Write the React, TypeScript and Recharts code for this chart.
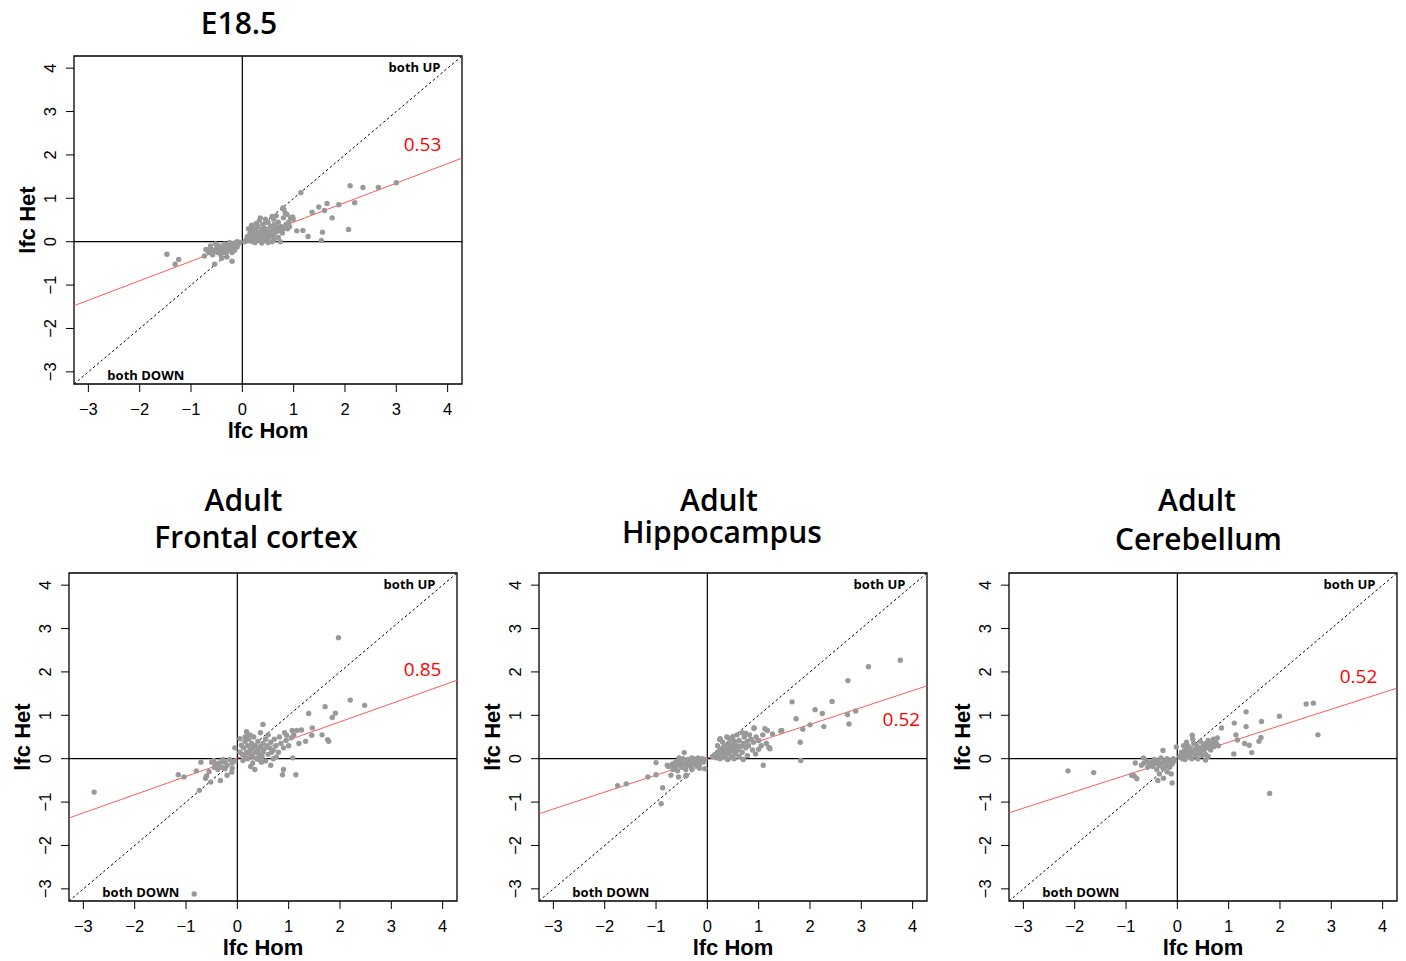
import React from "react"
import { ScatterChart, Scatter, XAxis, YAxis, ReferenceLine, ReferenceArea, ReferenceDot } from "recharts"

// axis range used by all four panels (R style 4% padding around -3..4)
const AXIS_MIN = -3.28
const AXIS_MAX = 4.28
const axisTicks = [-3, -2, -1, 0, 1, 2, 3, 4]

const e185Points: [number, number][] = [
  [3.0, 1.36], [2.65, 1.25], [2.35, 1.25], [2.1, 1.29], [2.19, 0.9], [2.07, 0.28], [1.88, 0.85],
  [1.65, 0.88], [1.49, 0.8], [1.6, 0.72], [1.75, 0.55], [1.36, 0.68], [1.56, 0.22], [1.54, 0.03],
  [1.28, 0.12], [1.14, 1.13], [1.06, 0.25], [1.18, 0.26], [0.98, 0.57], [0.79, 0.78], [0.84, 0.65],
  [0.74, 0.0], [0.81, 0.74], [0.99, 0.52], [0.16, 0.28], [0.35, 0.55], [0.46, 0.44], [0.61, 0.52],
  [0.87, 0.63], [0.94, 0.55],
  [0.08, 0.05], [0.1, 0.12], [0.12, 0.02], [0.15, 0.08], [0.15, 0.2], [0.18, 0.1], [0.2, 0.25],
  [0.2, 0.0], [0.22, 0.15], [0.25, 0.05], [0.25, 0.3], [0.28, 0.18], [0.3, 0.1], [0.3, 0.35],
  [0.32, 0.22], [0.35, 0.02], [0.35, 0.15], [0.38, 0.28], [0.4, 0.1], [0.4, 0.4], [0.42, 0.2],
  [0.45, 0.05], [0.45, 0.3], [0.48, 0.15], [0.5, 0.25], [0.5, 0.45], [0.52, 0.1], [0.55, 0.35],
  [0.55, 0.2], [0.58, 0.0], [0.6, 0.28], [0.6, 0.15], [0.62, 0.4], [0.65, 0.22], [0.68, 0.32],
  [0.7, 0.1], [0.7, 0.45], [0.72, 0.25], [0.75, 0.35], [0.78, 0.2], [0.8, 0.3], [0.8, 0.55],
  [0.85, 0.4], [0.88, 0.3], [0.9, 0.45], [0.92, 0.35], [0.25, -0.02], [0.38, -0.03], [0.5, -0.02],
  [0.05, 0.0], [0.12, 0.3], [0.18, 0.38], [0.27, 0.42], [0.33, 0.48], [0.45, 0.52], [0.58, 0.58],
  [0.66, 0.6], [0.62, 0.05], [0.42, 0.02],
  [-1.47, -0.29], [-1.24, -0.41], [-1.31, -0.52], [-0.2, -0.45], [-0.54, -0.52], [-0.74, -0.33],
  [-0.71, -0.18], [-0.05, -0.02], [-0.08, -0.05], [-0.1, 0.0], [-0.12, -0.08], [-0.15, -0.03],
  [-0.18, -0.12], [-0.2, -0.05], [-0.22, -0.15], [-0.25, -0.02], [-0.25, -0.1], [-0.28, -0.2],
  [-0.3, -0.08], [-0.32, -0.15], [-0.35, -0.25], [-0.35, -0.05], [-0.38, -0.12], [-0.4, -0.2],
  [-0.42, -0.3], [-0.45, -0.1], [-0.45, -0.18], [-0.48, -0.25], [-0.5, -0.15], [-0.52, -0.05],
  [-0.55, -0.22], [-0.58, -0.3], [-0.6, -0.18], [-0.62, -0.1], [-0.65, -0.25], [-0.68, -0.2],
  [-0.15, -0.2], [-0.3, -0.35], [-0.4, -0.38], [-0.2, -0.25], [-0.1, -0.12],
]

const frontalPoints: [number, number][] = [
  [1.97, 2.79], [2.2, 1.35], [2.48, 1.23], [1.71, 1.2], [1.91, 1.05], [1.85, 0.95], [1.39, 1.04],
  [1.46, 0.71], [1.45, 0.54], [1.65, 0.55], [1.76, 0.44], [1.78, 0.4], [1.33, 0.4], [1.25, 0.66],
  [1.16, 0.65], [1.07, 0.65], [0.96, 0.54], [1.2, 0.35], [1.08, 0.02], [1.14, -0.37], [0.88, -0.37],
  [0.9, -0.25], [0.5, 0.79], [0.26, -0.18], [0.34, -0.25], [0.47, -0.08], [0.65, -0.15], [0.76, 0.04],
  [0.67, 0.15], [0.11, -0.04], [-0.05, 0.25], [0.05, 0.46], [0.08, 0.31], [0.18, 0.62], [0.21, 0.54],
  [0.1, 0.1], [0.12, 0.25], [0.15, 0.05], [0.15, 0.4], [0.18, 0.15], [0.2, 0.3], [0.2, 0.0],
  [0.22, 0.45], [0.25, 0.2], [0.25, 0.1], [0.28, 0.35], [0.3, 0.05], [0.3, 0.25], [0.32, 0.5],
  [0.35, 0.15], [0.35, 0.3], [0.38, 0.0], [0.4, 0.2], [0.4, 0.4], [0.42, 0.1], [0.45, 0.28],
  [0.48, 0.05], [0.5, 0.35], [0.5, 0.15], [0.52, 0.22], [0.55, 0.45], [0.55, -0.05], [0.58, 0.3],
  [0.6, 0.1], [0.62, 0.25], [0.65, 0.38], [0.7, 0.2], [0.72, 0.45], [0.75, 0.3], [0.8, 0.15],
  [0.82, 0.5], [0.85, 0.35], [0.9, 0.25], [0.92, 0.6], [0.95, 0.42], [1.0, 0.3], [1.05, 0.48],
  [1.1, 0.55], [0.25, 0.55], [0.15, 0.5], [0.05, 0.15], [0.45, 0.6], [0.6, 0.55], [0.7, 0.0],
  [0.3, -0.1], [0.42, -0.02],
  [-2.79, -0.77], [-0.84, -3.12], [-1.15, -0.37], [-1.04, -0.42], [-0.8, -0.28], [-0.71, -0.08],
  [-0.62, -0.45], [-0.74, -0.73], [-0.52, -0.54], [-0.33, -0.5], [-0.46, -0.04], [-0.28, -0.02],
  [-0.24, -0.23], [-0.11, -0.31], [-0.1, -0.22], [-0.39, -0.19], [-0.41, -0.15],
  [-0.05, -0.05], [-0.1, -0.1], [-0.15, -0.02], [-0.2, -0.15], [-0.25, -0.08], [-0.3, -0.2],
  [-0.35, -0.1], [-0.38, -0.25], [-0.42, -0.12], [-0.45, -0.2], [-0.5, -0.08], [-0.55, -0.3],
  [-0.2, -0.38], [-0.6, -0.4],
]

const hippoPoints: [number, number][] = [
  [3.76, 2.27], [3.14, 2.12], [2.74, 1.8], [2.43, 1.32], [2.1, 1.13], [2.24, 1.04], [2.89, 1.1],
  [2.73, 1.02], [2.76, 0.8], [2.27, 0.74], [2.0, 0.78], [1.86, 0.68], [1.65, 1.31], [1.73, 0.92],
  [1.81, 0.38], [1.82, -0.04], [1.45, 0.65], [1.09, -0.15], [1.22, 0.23], [1.17, 0.65], [1.12, 0.69],
  [0.91, 0.71], [0.75, 0.58], [0.25, 0.46], [0.41, 0.48], [0.7, -0.02], [0.78, 0.07], [0.94, 0.11],
  [1.2, 0.26], [1.27, 0.57], [1.43, 0.64], [0.24, 0.44], [0.5, 0.51], [0.74, 0.58], [0.91, 0.7],
  [0.1, 0.05], [0.15, 0.1], [0.18, 0.02], [0.2, 0.15], [0.22, 0.08], [0.25, 0.2], [0.25, 0.0],
  [0.28, 0.12], [0.3, 0.25], [0.3, 0.05], [0.33, 0.18], [0.35, 0.1], [0.35, 0.3], [0.38, 0.0],
  [0.4, 0.2], [0.42, 0.12], [0.42, 0.35], [0.45, 0.25], [0.48, 0.05], [0.5, 0.18], [0.5, 0.32],
  [0.53, 0.4], [0.55, 0.12], [0.55, 0.25], [0.58, 0.3], [0.6, 0.2], [0.62, 0.42], [0.65, 0.28],
  [0.68, 0.15], [0.7, 0.35], [0.72, 0.5], [0.75, 0.25], [0.78, 0.4], [0.8, 0.3], [0.82, 0.55],
  [0.85, 0.45], [0.88, 0.2], [0.9, 0.38], [0.95, 0.5], [1.0, 0.42], [1.05, 0.3], [1.08, 0.55],
  [1.15, 0.35], [0.62, 0.05], [0.45, 0.45], [0.3, 0.38], [0.2, 0.3], [0.38, 0.5], [0.58, 0.55],
  [0.68, 0.6], [0.4, -0.02], [0.52, 0.0], [1.0, 0.22],
  [-1.75, -0.62], [-1.58, -0.58], [-1.16, -0.42], [-1.0, -0.37], [-1.0, -0.09], [-0.87, -0.67],
  [-0.9, -1.04], [-0.67, -0.25], [-0.78, -0.15], [-0.56, -0.42], [-0.42, -0.4], [-0.45, 0.14],
  [-0.08, -0.04], [-0.76, -0.18], [-0.71, -0.38], [-0.55, 0.02], [-0.41, -0.38], [-0.23, -0.01],
  [-0.05, -0.02], [-0.08, -0.08], [-0.1, 0.0], [-0.12, -0.05], [-0.15, -0.12], [-0.18, 0.02],
  [-0.2, -0.08], [-0.22, -0.15], [-0.25, -0.03], [-0.28, -0.1], [-0.3, 0.02], [-0.32, -0.18],
  [-0.35, -0.08], [-0.38, -0.02], [-0.4, -0.15], [-0.42, -0.25], [-0.45, -0.1], [-0.48, 0.0],
  [-0.5, -0.2], [-0.52, -0.12], [-0.55, -0.05], [-0.58, -0.28], [-0.6, -0.15], [-0.62, -0.08],
  [-0.65, -0.2], [-0.68, -0.12], [-0.3, -0.25], [-0.15, -0.22], [-0.05, -0.23],
]

const cerebPoints: [number, number][] = [
  [2.74, 0.55], [2.65, 1.28], [2.51, 1.26], [1.99, 0.98], [1.64, 0.86], [1.63, 0.49], [1.59, 0.4],
  [1.8, -0.8], [1.34, 1.08], [1.34, 0.74], [1.11, 0.82], [1.14, 0.55], [1.17, 0.43], [1.31, 0.35],
  [1.4, 0.31], [1.45, 0.14], [1.1, 0.11], [0.86, 0.71], [0.29, 0.54], [-0.02, 0.27],
  [0.05, 0.05], [0.08, 0.15], [0.1, 0.0], [0.12, 0.08], [0.15, 0.2], [0.15, -0.02], [0.18, 0.12],
  [0.2, 0.3], [0.2, 0.05], [0.22, 0.18], [0.25, 0.1], [0.25, 0.25], [0.28, 0.0], [0.3, 0.15],
  [0.32, 0.35], [0.35, 0.08], [0.35, 0.22], [0.38, 0.3], [0.4, 0.12], [0.4, 0.0], [0.42, 0.25],
  [0.45, 0.18], [0.45, 0.4], [0.48, 0.08], [0.5, 0.3], [0.52, 0.2], [0.55, 0.35], [0.55, 0.1],
  [0.58, 0.25], [0.6, 0.42], [0.62, 0.3], [0.65, 0.2], [0.68, 0.35], [0.7, 0.45], [0.72, 0.28],
  [0.75, 0.38], [0.78, 0.48], [0.8, 0.3], [0.55, -0.03], [0.3, 0.45], [0.12, 0.3], [0.18, 0.38],
  [0.6, 0.05],
  [-2.13, -0.28], [-1.63, -0.32], [-0.82, -0.1], [-0.89, -0.38], [-0.79, -0.46], [-0.84, -0.4],
  [-0.28, 0.19], [-0.38, -0.5], [-0.1, -0.56], [-0.27, -0.45], [-0.66, 0.02],
  [-0.05, -0.05], [-0.08, 0.0], [-0.1, -0.12], [-0.12, -0.05], [-0.15, -0.2], [-0.18, -0.08],
  [-0.2, 0.0], [-0.22, -0.15], [-0.25, -0.05], [-0.28, -0.22], [-0.3, -0.1], [-0.32, 0.02],
  [-0.35, -0.15], [-0.38, -0.05], [-0.4, -0.25], [-0.42, -0.1], [-0.45, -0.02], [-0.48, -0.18],
  [-0.5, -0.08], [-0.55, -0.12], [-0.58, -0.2], [-0.6, -0.05], [-0.65, -0.1], [-0.7, -0.15],
  [-0.2, -0.3], [-0.12, -0.35], [-0.35, -0.35],
]

const panelTitles = [["E18.5"], ["Adult", "Frontal cortex"], ["Adult", "Hippocampus"], ["Adult", "Cerebellum"]]
const corrValues = ["0.53", "0.85", "0.52", "0.52"]
const fitSlopes = [0.45, 0.42, 0.39, 0.38]
const fitIntercepts = [0.0, 0.01, 0.01, 0.0]
const panelPoints = [e185Points, frontalPoints, hippoPoints, cerebPoints]

// layout
const PLOT_W = 388
const PLOT_H = 328
const Y_AXIS_W = 60
const X_AXIS_H = 62
const M_TOP = 6
const M_RIGHT = 8
const CHART_W = Y_AXIS_W + PLOT_W + M_RIGHT
const CHART_H = M_TOP + PLOT_H + X_AXIS_H

const panelBoxes = [
  { left: 74, top: 56 },
  { left: 69, top: 573 },
  { left: 539, top: 573 },
  { left: 1009, top: 573 },
]
const corrPos = [
  { x: 3.52, y: 2.23 },
  { x: 3.62, y: 2.05 },
  { x: 3.79, y: 0.9 },
  { x: 3.54, y: 1.89 },
]
const titleLines = [
  [{ cx: 239, by: 34 }],
  [{ cx: 243.5, by: 511 }, { cx: 256, by: 548 }],
  [{ cx: 719, by: 511 }, { cx: 722, by: 543 }],
  [{ cx: 1197, by: 511 }, { cx: 1198.5, by: 550 }],
]

const TICK_FONT = "'Liberation Sans', Arial, sans-serif"
const NOTE_FONT = "'Open Sans', sans-serif"
const fmt = (v: number) => (v < 0 ? "\u2212" + Math.abs(v) : String(v))

const XTick = (props: any) => {
  const { x, y, payload } = props
  return (
    <text x={x} y={y + 22.5} textAnchor="middle" fontSize={16.5} fontFamily={TICK_FONT} fill="#000">
      {fmt(payload.value)}
    </text>
  )
}

const YTick = (props: any) => {
  const { x, y, payload } = props
  const bx = x - 10
  return (
    <text x={bx} y={y} transform={`rotate(-90 ${bx} ${y})`} textAnchor="middle" fontSize={16.5} fontFamily={TICK_FONT} fill="#000">
      {fmt(payload.value)}
    </text>
  )
}

const GrayDot = (p: any) => <circle cx={p.cx} cy={p.cy} r={2.7} fill="#999999" />

function Panel({ idx }: { idx: number }) {
  const data = panelPoints[idx].map(([x, y]) => ({ x, y }))
  const b = fitSlopes[idx]
  const a = fitIntercepts[idx]
  const box = panelBoxes[idx]
  const pos = corrPos[idx]
  return (
    <div style={{ position: "absolute", left: box.left - Y_AXIS_W, top: box.top - M_TOP }}>
      <ScatterChart width={CHART_W} height={CHART_H} margin={{ top: M_TOP, right: M_RIGHT, left: 0, bottom: 0 }}>
        <XAxis
          type="number"
          dataKey="x"
          domain={[AXIS_MIN, AXIS_MAX]}
          ticks={axisTicks}
          allowDataOverflow
          height={X_AXIS_H}
          axisLine={false}
          tickLine={{ stroke: "#000", strokeWidth: 1 }}
          tickSize={8}
          tickMargin={0}
          tick={XTick}
          label={{
            content: () => (
              <text x={Y_AXIS_W + PLOT_W / 2} y={M_TOP + PLOT_H + 54} textAnchor="middle" fontSize={22} fontWeight="bold" fontFamily={TICK_FONT} fill="#000">
                lfc Hom
              </text>
            ),
          }}
        />
        <YAxis
          type="number"
          dataKey="y"
          domain={[AXIS_MIN, AXIS_MAX]}
          ticks={axisTicks}
          allowDataOverflow
          width={Y_AXIS_W}
          axisLine={false}
          tickLine={{ stroke: "#000", strokeWidth: 1 }}
          tickSize={8}
          tickMargin={0}
          tick={YTick}
          label={{
            content: () => {
              const lx = Y_AXIS_W - 39
              const ly = M_TOP + PLOT_H / 2
              return (
                <text x={lx} y={ly} transform={`rotate(-90 ${lx} ${ly})`} textAnchor="middle" fontSize={22} fontWeight="bold" fontFamily={TICK_FONT} fill="#000">
                  lfc Het
                </text>
              )
            },
          }}
        />
        <Scatter data={data} shape={GrayDot} isAnimationActive={false} />
        <ReferenceLine x={0} stroke="#000" strokeWidth={1.2} />
        <ReferenceLine y={0} stroke="#000" strokeWidth={1.2} />
        <ReferenceLine
          segment={[{ x: AXIS_MIN, y: AXIS_MIN }, { x: AXIS_MAX, y: AXIS_MAX }]}
          stroke="#000"
          strokeWidth={1}
          strokeDasharray="2.5 2.5"
        />
        <ReferenceLine
          segment={[{ x: AXIS_MIN, y: a + b * AXIS_MIN }, { x: AXIS_MAX, y: a + b * AXIS_MAX }]}
          stroke="#ff5a5a"
          strokeWidth={1}
        />
        <ReferenceArea x1={AXIS_MIN} x2={AXIS_MAX} y1={AXIS_MIN} y2={AXIS_MAX} fill="none" stroke="#000" strokeWidth={1.3} ifOverflow="visible" />
        <ReferenceDot
          x={pos.x}
          y={pos.y}
          r={0.5}
          fill="none"
          stroke="none"
          label={{
            content: (p: any) => (
              <text x={p.viewBox.x} y={p.viewBox.y} dy="0.35em" textAnchor="middle" fontSize={19} fontWeight={500} fontFamily={NOTE_FONT} fill="#ff0000">
                {corrValues[idx]}
              </text>
            ),
          }}
        />
        <ReferenceDot
          x={3.87}
          y={3.91}
          r={0.5}
          fill="none"
          stroke="none"
          label={{
            content: (p: any) => (
              <text x={p.viewBox.x} y={p.viewBox.y} textAnchor="end" fontSize={13} fontWeight="bold" fontFamily={NOTE_FONT} fill="#000">
                both UP
              </text>
            ),
          }}
        />
        <ReferenceDot
          x={-2.62}
          y={-3.2}
          r={0.5}
          fill="none"
          stroke="none"
          label={{
            content: (p: any) => (
              <text x={p.viewBox.x} y={p.viewBox.y} textAnchor="start" fontSize={13} fontWeight="bold" fontFamily={NOTE_FONT} fill="#000">
                both DOWN
              </text>
            ),
          }}
        />
      </ScatterChart>
    </div>
  )
}

export default function App() {
  return (
    <div style={{ position: "absolute", left: 0, top: 0, width: 1406, height: 961, background: "#fff" }}>
      <svg width={1406} height={961} style={{ position: "absolute", left: 0, top: 0 }}>
        {panelTitles.map((lines, i) =>
          lines.map((t, j) => (
            <text
              key={`${i}-${j}`}
              x={titleLines[i][j].cx}
              y={titleLines[i][j].by}
              textAnchor="middle"
              fontSize={30}
              fontWeight={600}
              fontFamily={NOTE_FONT}
              fill="#000"
            >
              {t}
            </text>
          ))
        )}
      </svg>
      {panelPoints.map((_, i) => (
        <Panel key={i} idx={i} />
      ))}
    </div>
  )
}
